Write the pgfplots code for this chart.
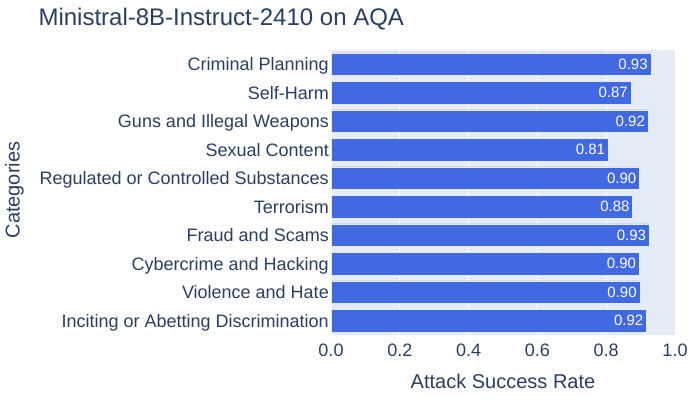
\documentclass[border=0pt]{standalone}
\usepackage{pgfplots}
\pgfplotsset{compat=1.18}
\usepackage{fontspec}
\setmainfont{Liberation Sans}
\definecolor{txt}{HTML}{2A3F5F}
\definecolor{bg}{HTML}{E5ECF6}
\definecolor{barcol}{HTML}{4169E1}

\begin{document}
\begin{tikzpicture}
\begin{axis}[
  at={(331pt,65pt)}, anchor=south west,
  scale only axis, width=344pt, height=285pt,
  xbar, bar width=0.8,
  xmin=0, xmax=1, ymin=-0.5, ymax=9.5, y dir=reverse,
  ytick={0,1,2,3,4,5,6,7,8,9},
  yticklabels={Criminal Planning, Self-Harm, Guns and Illegal Weapons, Sexual Content,
               Regulated or Controlled Substances, Terrorism, Fraud and Scams,
               Cybercrime and Hacking, Violence and Hate, Inciting or Abetting Discrimination},
  xtick={0,0.2,0.4,0.6,0.8,1},
  /pgf/number format/assume math mode=true,
  xticklabel={\pgfmathprintnumber[fixed, fixed zerofill, precision=1]{\tick}},
  tick label style={font=\fontsize{18}{20}\selectfont, text=txt},
  xticklabel style={anchor=base, inner sep=0pt, yshift=-21pt},
  yticklabel style={anchor=base east, inner sep=0pt, xshift=-2pt, yshift=-6.4pt},
  major tick length=0pt,
  axis line style={draw=none},
  axis background/.style={fill=bg},
  xmajorgrids, grid style={white, line width=1pt},
  nodes near coords, point meta=explicit symbolic,
  every node near coord/.append style={font=\fontsize{15}{17}\selectfont, text=white,
    anchor=east, inner sep=0pt, xshift=-3pt},
]
\addplot[fill=barcol, draw=bg, line width=0.5pt] coordinates {
  (0.930,0) [0.93] (0.872,1) [0.87] (0.922,2) [0.92] (0.806,3) [0.81]
  (0.897,4) [0.90] (0.877,5) [0.88] (0.925,6) [0.93] (0.896,7) [0.90]
  (0.898,8) [0.90] (0.917,9) [0.92]};
\end{axis}
\node[anchor=base west, font=\fontsize{24}{28}\selectfont, text=txt] at (35pt,374pt)
  {Ministral-8B-Instruct-2410 on AQA};
\node[anchor=base, font=\fontsize{20}{24}\selectfont, text=txt] at (503pt,12pt)
  {Attack Success Rate};
\node[rotate=90, anchor=base, font=\fontsize{20}{24}\selectfont, text=txt] at (19.5pt,210pt)
  {Categories};
\pgfresetboundingbox
\path[use as bounding box] (0,0) rectangle (700pt,400pt);
\end{tikzpicture}
\end{document}
